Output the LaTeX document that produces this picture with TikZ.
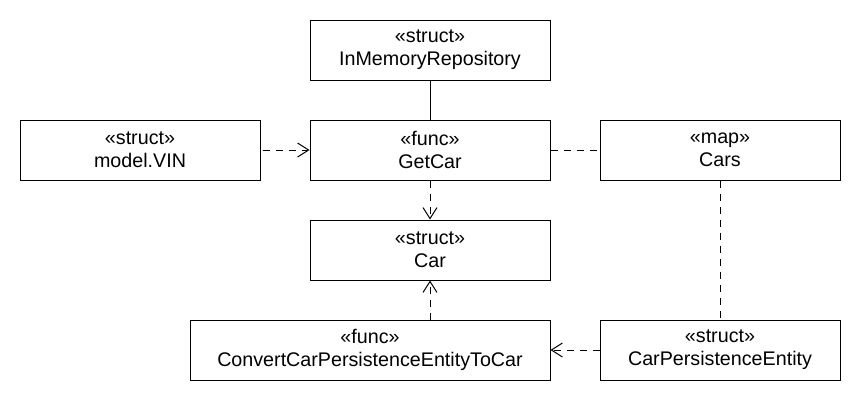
\documentclass[tikz,border=0pt]{standalone}
\usepackage{fontspec}
\setmainfont{Liberation Sans}
\usetikzlibrary{arrows.meta}
\tikzset{
  umlbox/.style={draw=black, line width=1pt, fill=white, minimum height=60pt, minimum width=240pt,
    inner sep=0pt, align=center, font=\fontsize{19.7}{23}\selectfont},
  solidlink/.style={draw=black, line width=1pt},
  dashlink/.style={draw=black, line width=1pt, dash pattern=on 7pt off 6pt},
  deparrow/.style={dashlink, -{Straight Barb[length=11pt, width=14pt, line width=1pt]}},
}
\begin{document}
\begin{tikzpicture}[x=1pt, y=-1pt]
\useasboundingbox (0,0) rectangle (860,400);
\node[umlbox] (imr) at (430,50) {«struct»\\InMemoryRepository};
\node[umlbox] (vin) at (140,150) {«struct»\\model.VIN};
\node[umlbox] (getcar) at (430,150) {«func»\\GetCar};
\node[umlbox] (cars) at (720,150) {«map»\\Cars};
\node[umlbox] (car) at (430,250) {«struct»\\Car};
\node[umlbox, minimum width=360pt] (conv) at (370,350) {«func»\\ConvertCarPersistenceEntityToCar};
\node[umlbox] (cpe) at (720,350) {«struct»\\CarPersistenceEntity};

\draw[solidlink] (imr.south) -- (getcar.north);
\draw[deparrow] ([xshift=2pt]vin.east) -- (getcar.west);
\draw[dashlink] (getcar.east) -- (cars.west);
\draw[deparrow] (getcar.south) -- (car.north);
\draw[dashlink] (cars.south) -- (cpe.north);
\draw[deparrow] (cpe.west) -- (conv.east);
\draw[deparrow] (conv.north -| car.south) -- (car.south);
\end{tikzpicture}
\end{document}
